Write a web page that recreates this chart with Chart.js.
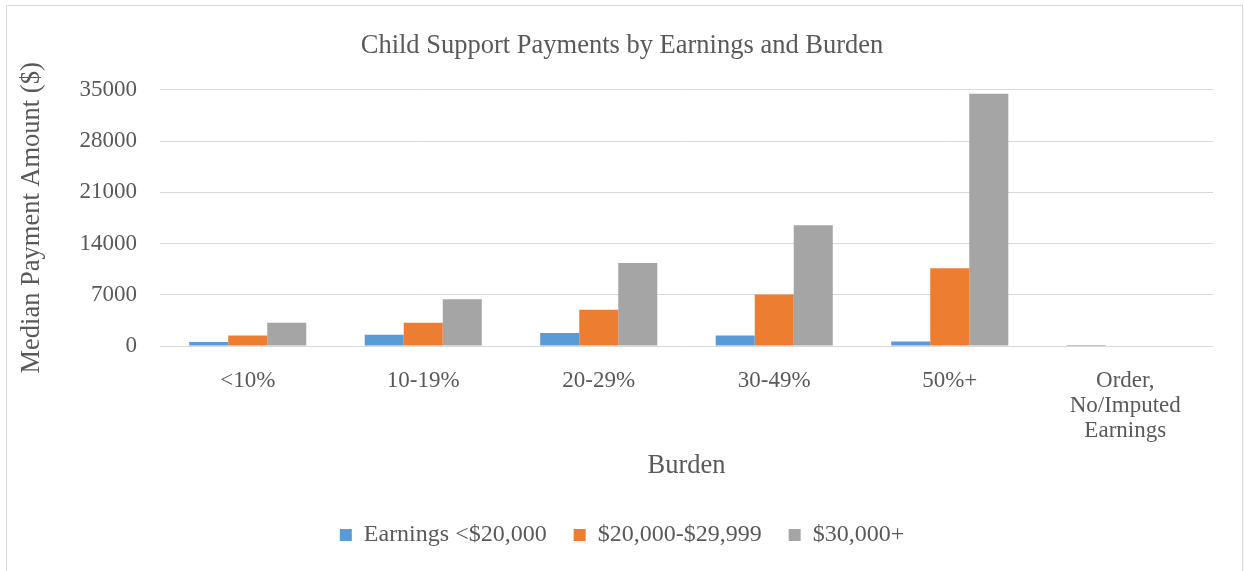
<!DOCTYPE html>
<html>
<head>
<meta charset="utf-8">
<script src="https://cdn.jsdelivr.net/npm/chart.js@4/dist/chart.umd.min.js"></script>
<style>
  html, body { margin: 0; padding: 0; background: #fff; overflow: hidden; }
  #wrap { position: relative; width: 1244px; height: 571px; }
  #frame { position: absolute; left: 6px; top: 5px; width: 1235px; height: 600px;
           border: 1px solid #d9d9d9; pointer-events: none; }
</style>
</head>
<body>
<div id="wrap">
  <canvas id="grafico" width="1244" height="571"></canvas>
  <div id="frame"></div>
</div>
<script>
// datos
const categorias = ["<10%", "10-19%", "20-29%", "30-49%", "50%+", ["Order,", "No/Imputed", "Earnings"]];
const menos20000 = [560, 1520, 1790, 1420, 600, 150];
const de20000a29999 = [1420, 3170, 4950, 7050, 10620, 0];
const mas30000 = [3170, 6370, 11350, 16480, 34450, 0];
const ticksY = [0, 7000, 14000, 21000, 28000, 35000];

const gris = "#595959";
const serif = "'Liberation Serif', 'Times New Roman', serif";

const fondoBlanco = {
    id: "fondoBlanco",
    beforeDraw(chart) {
        const c = chart.ctx;
        c.save();
        c.fillStyle = "#fff";
        c.fillRect(0, 0, chart.width, chart.height);
        c.restore();
    }
};

const ctx = document.getElementById("grafico").getContext("2d");
const grafico = new Chart(ctx, {
    type: "bar",
    data: {
        labels: categorias,
        datasets: [
            { label: "Earnings <$20,000", data: menos20000, backgroundColor: "#5B9BD5" },
            { label: "$20,000-$29,999", data: de20000a29999, backgroundColor: "#ED7D31" },
            { label: "$30,000+", data: mas30000, backgroundColor: "#A5A5A5" }
        ]
    },
    options: {
        responsive: false,
        animation: false,
        devicePixelRatio: 1,
        categoryPercentage: 0.667,
        barPercentage: 1,
        layout: { padding: { left: 6, right: 6, top: 0, bottom: 14 } },
        plugins: {
            title: {
                display: true,
                text: "Child Support Payments by Earnings and Burden",
                color: gris,
                font: { family: serif, size: 26.5, weight: "normal" },
                padding: { top: 30, bottom: 28 }
            },
            legend: {
                position: "bottom",
                labels: {
                    color: gris,
                    font: { family: serif, size: 24 },
                    boxWidth: 12,
                    boxHeight: 12,
                    padding: 27
                }
            },
            tooltip: { enabled: false }
        },
        scales: {
            x: {
                grid: { display: false },
                border: { display: false },
                ticks: {
                    color: gris,
                    font: { family: serif, size: 23, lineHeight: 1.1 },
                    padding: 14,
                    maxRotation: 0
                },
                title: {
                    display: true,
                    text: "Burden",
                    color: gris,
                    font: { family: serif, size: 26.5 },
                    padding: { top: 0, bottom: 14 }
                },
                afterFit(scale) { scale.height = 150; }
            },
            y: {
                min: 0,
                max: 35000,
                afterBuildTicks(scale) { scale.ticks = ticksY.map(v => ({ value: v })); },
                grid: { color: "#d9d9d9", lineWidth: 1, drawTicks: false },
                border: { display: false },
                ticks: {
                    color: gris,
                    font: { family: serif, size: 23 },
                    padding: 23,
                    callback: v => String(v)
                },
                title: {
                    display: true,
                    text: "Median Payment Amount ($)",
                    color: gris,
                    font: { family: serif, size: 26.5 },
                    padding: { top: 10, bottom: 0 }
                },
                afterFit(scale) { scale.width = 154; }
            },
            // eje vacío a la derecha solo para dejar el margen
            derecha: {
                position: "right",
                display: true,
                grid: { display: false },
                border: { display: false },
                ticks: { display: false },
                afterFit(scale) { scale.width = 25; }
            }
        }
    },
    plugins: [fondoBlanco]
});
</script>
</body>
</html>
